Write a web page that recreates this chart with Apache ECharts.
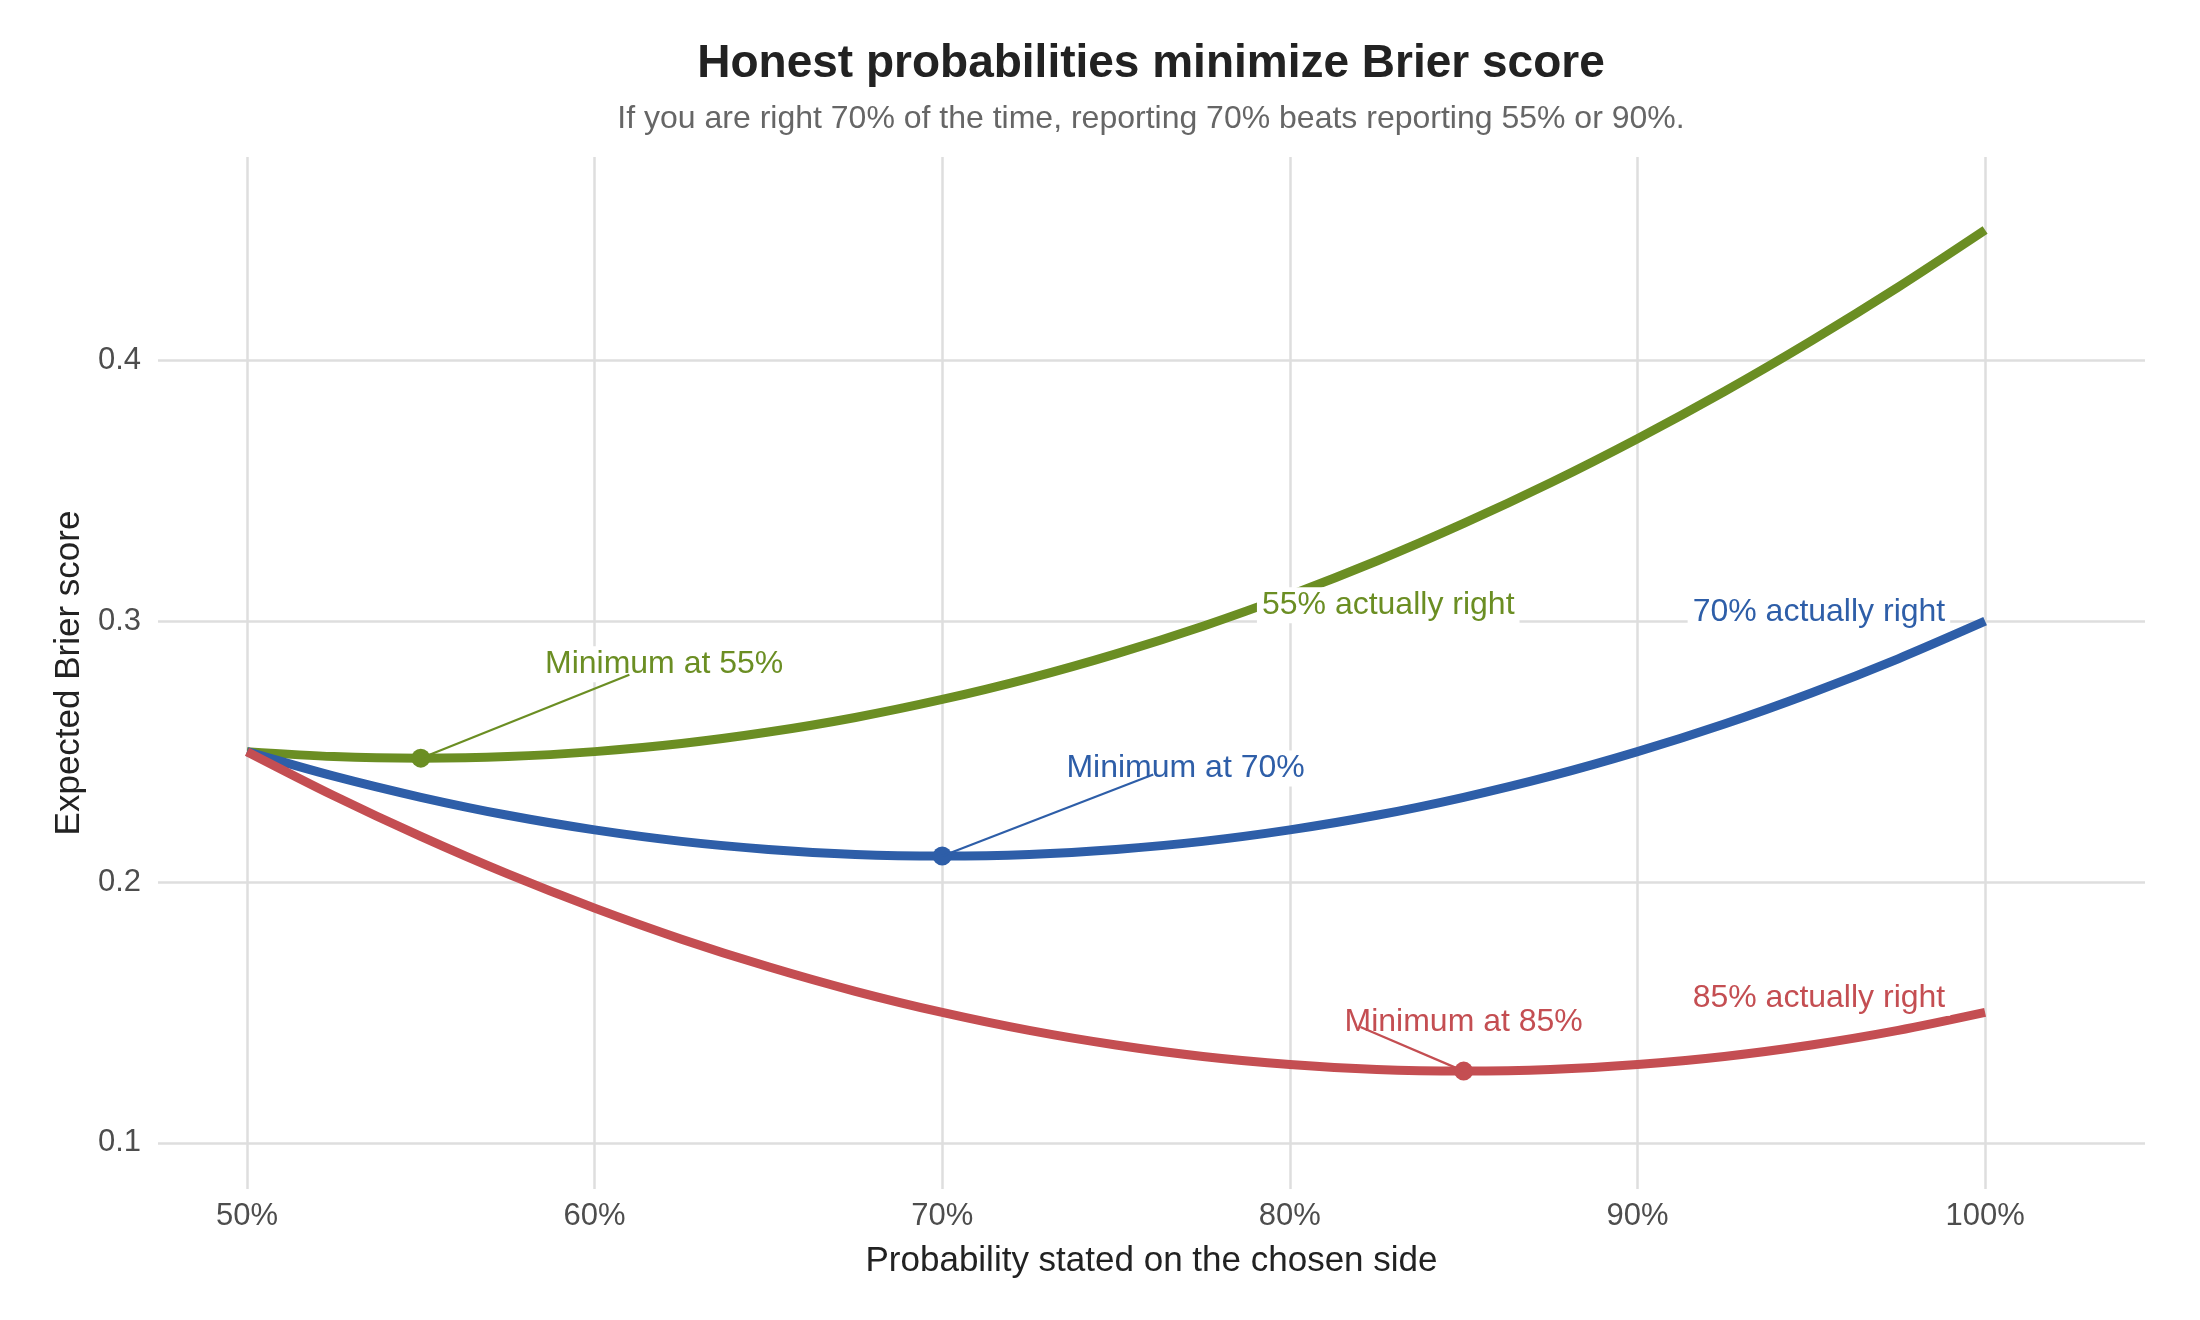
<!DOCTYPE html>
<html>
<head>
<meta charset="utf-8">
<title>Brier score</title>
<script src="https://cdn.jsdelivr.net/npm/echarts@6/dist/echarts.min.js"></script>
<style>
  html, body { margin: 0; padding: 0; background: #fff; }
  #chart { width: 2200px; height: 1320px; }
</style>
</head>
<body>
<div id="chart"></div>
<script>
// stated probability (x) and expected Brier score for each true hit rate
const statedProb = [0.5, 0.525, 0.55, 0.575, 0.6, 0.625, 0.65, 0.675, 0.7, 0.725, 0.75,
  0.775, 0.8, 0.825, 0.85, 0.875, 0.9, 0.925, 0.95, 0.975, 1.0]
const score55 = [0.25, 0.2481, 0.2475, 0.2481, 0.25, 0.2531, 0.2575, 0.2631, 0.27, 0.2781, 0.2875,
  0.2981, 0.31, 0.3231, 0.3375, 0.3531, 0.37, 0.3881, 0.4075, 0.4281, 0.45]
const score70 = [0.25, 0.2406, 0.2325, 0.2256, 0.22, 0.2156, 0.2125, 0.2106, 0.21, 0.2106, 0.2125,
  0.2156, 0.22, 0.2256, 0.2325, 0.2406, 0.25, 0.2606, 0.2725, 0.2856, 0.30]
const score85 = [0.25, 0.2331, 0.2175, 0.2031, 0.19, 0.1781, 0.1675, 0.1581, 0.15, 0.1431, 0.1375,
  0.1331, 0.13, 0.1281, 0.1275, 0.1281, 0.13, 0.1331, 0.1375, 0.1431, 0.15]

const curveNames = ['55% actually right', '70% actually right', '85% actually right']
const curveColors = ['#6b8e23', '#2e5ea8', '#c44e52']

// minimum of each curve
const minX = [0.55, 0.70, 0.85]
const minY = [0.2475, 0.21, 0.1275]
const minNames = ['Minimum at 55%', 'Minimum at 70%', 'Minimum at 85%']

// where the leader lines end and the labels sit (data units)
const calloutX = [0.61, 0.7607, 0.8203]
const calloutY = [0.2795, 0.2412, 0.1444]
const minLabelX = [0.620, 0.770, 0.850]
const minLabelY = [0.2835, 0.2435, 0.1464]
const curveLabelX = [0.8283, 0.9522, 0.9522]
const curveLabelY = [0.3061, 0.3035, 0.1556]

const xTicks = [0.5, 0.6, 0.7, 0.8, 0.9, 1.0]
const yTicks = [0.1, 0.2, 0.3, 0.4]

const FONT = '"Liberation Sans", Arial, Helvetica, sans-serif'

const zip = (xs, ys) => xs.map((x, i) => [x, ys[i]])

const buildSeries = () => {
  let scores = [score55, score70, score85]
  let series = []

  scores.forEach((ys, i) => {
    series.push({
      name: curveNames[i],
      type: 'line',
      data: zip(statedProb, ys),
      smooth: 0.3,
      symbol: 'none',
      z: 2,
      lineStyle: { color: curveColors[i], width: 9 }
    })
  })

  // minimum dots
  series.push({
    type: 'scatter',
    data: minX.map((x, i) => ({ value: [x, minY[i]], itemStyle: { color: curveColors[i], opacity: 1 } })),
    symbolSize: 19,
    z: 4
  })

  // text labels with white boxes
  const labelItem = (x, y, text, color) => ({
    value: [x, y],
    name: text,
    itemStyle: { opacity: 1 },
    label: {
      show: true,
      position: 'inside',
      formatter: '{b}',
      color: color,
      opacity: 1,
      fontFamily: FONT,
      fontSize: 32,
      backgroundColor: '#ffffff',
      padding: [2, 5]
    }
  })

  let labels = []
  minX.forEach((x, i) => labels.push(labelItem(minLabelX[i], minLabelY[i], minNames[i], curveColors[i])))
  curveNames.forEach((n, i) => labels.push(labelItem(curveLabelX[i], curveLabelY[i], n, curveColors[i])))

  series.push({
    type: 'scatter',
    data: labels,
    symbolSize: 0,
    silent: true,
    z: 5
  })

  // leader lines from the minimum to its label, drawn over the label boxes
  minX.forEach((x, i) => {
    series.push({
      type: 'line',
      data: [[x, minY[i]], [calloutX[i], calloutY[i]]],
      symbol: 'none',
      silent: true,
      z: 6,
      lineStyle: { color: curveColors[i], width: 2.2 }
    })
  })

  return series
}

const getOption = () => {
  return {
    animation: false,
    backgroundColor: '#ffffff',
    title: [
      {
        text: 'Honest probabilities minimize Brier score',
        left: 1146,
        textAlign: 'center',
        top: 36,
        textStyle: { fontFamily: FONT, fontSize: 46, fontWeight: 'bold', color: '#222222' }
      },
      {
        text: 'If you are right 70% of the time, reporting 70% beats reporting 55% or 90%.',
        left: 1146,
        textAlign: 'center',
        top: 98,
        textStyle: { fontFamily: FONT, fontSize: 32, fontWeight: 'normal', color: '#666666' }
      }
    ],
    grid: {
      left: 158,
      right: 55,
      top: 157,
      bottom: 131,
      containLabel: false
    },
    xAxis: {
      type: 'value',
      min: 0.4744,
      max: 1.046,
      name: 'Probability stated on the chosen side',
      nameLocation: 'middle',
      nameGap: 55,
      nameTextStyle: { fontFamily: FONT, fontSize: 35, color: '#222222' },
      axisLine: { show: false },
      axisTick: { show: false, customValues: xTicks },
      axisLabel: {
        customValues: xTicks,
        margin: 12,
        fontFamily: FONT,
        fontSize: 31,
        color: '#4d4d4d',
        formatter: v => Math.round(v * 100) + '%'
      },
      splitLine: { show: true, lineStyle: { color: '#dedede', width: 2.5 } }
    },
    yAxis: {
      type: 'value',
      min: 0.0823,
      max: 0.478,
      name: 'Expected Brier score',
      nameLocation: 'middle',
      nameGap: 70,
      nameTextStyle: { fontFamily: FONT, fontSize: 35, color: '#222222' },
      axisLine: { show: false },
      axisTick: { show: false, customValues: yTicks },
      axisLabel: {
        customValues: yTicks,
        margin: 17,
        fontFamily: FONT,
        fontSize: 31,
        color: '#4d4d4d',
        formatter: v => v.toFixed(1)
      },
      splitLine: { show: true, lineStyle: { color: '#dedede', width: 2.5 } }
    },
    series: buildSeries()
  }
}

window.addEventListener('load', () => {
  const chart = echarts.init(document.getElementById('chart'))
  chart.setOption(getOption())
})
</script>
</body>
</html>
